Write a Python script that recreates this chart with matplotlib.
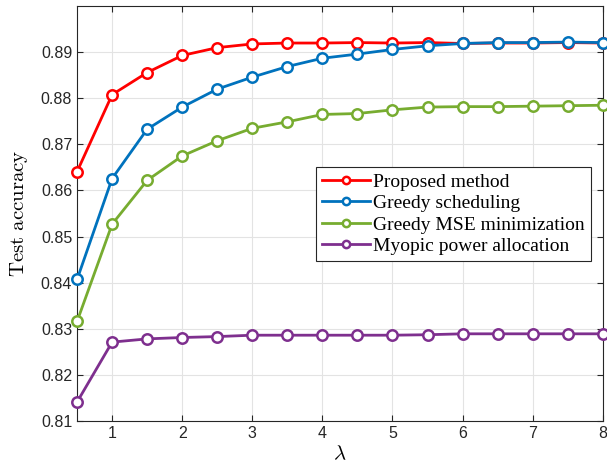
import numpy as np
import matplotlib
matplotlib.use('Agg')
from matplotlib import pyplot as plt

lam = [0.5, 1, 1.5, 2, 2.5, 3, 3.5, 4, 4.5, 5, 5.5, 6, 6.5, 7, 7.5, 8]

proposed = [0.8641, 0.8808, 0.8856, 0.8893, 0.8910, 0.8918, 0.8920, 0.8920,
            0.8921, 0.8920, 0.8921, 0.8919, 0.8920, 0.8920, 0.8921, 0.8920]
greedy_sched = [0.8407, 0.8626, 0.8733, 0.8781, 0.8820, 0.8846, 0.8869, 0.8887,
                0.8896, 0.8906, 0.8914, 0.8919, 0.8921, 0.8921, 0.8922, 0.8921]
greedy_mse = [0.8316, 0.8527, 0.8622, 0.8675, 0.8708, 0.8735, 0.8749, 0.8765,
              0.8767, 0.8775, 0.8781, 0.8782, 0.8782, 0.8783, 0.8784, 0.8785]
myopic = [0.8141, 0.8271, 0.8278, 0.8281, 0.8283, 0.8286, 0.8286, 0.8286,
          0.8286, 0.8286, 0.8287, 0.8289, 0.8289, 0.8289, 0.8289, 0.8289]

labels = ['Proposed method', 'Greedy scheduling', 'Greedy MSE minimization',
          'Myopic power allocation']
colors = ['#FF0000', '#0072BD', '#77AC30', '#7E2F8E']

plt.rcParams['mathtext.fontset'] = 'cm'

fig = plt.figure(figsize=(6.07, 4.74), dpi=100)
ax = fig.add_axes([0.127, 0.112, 0.866, 0.875])

for y, lab, c in zip([proposed, greedy_sched, greedy_mse, myopic], labels, colors):
    ax.plot(lam, y, '-o', color=c, lw=2.0, ms=7.5, mew=1.8,
            mfc='white', label=lab, clip_on=False, zorder=3)

ax.set_xlim(0.5, 8)
ax.set_ylim(0.81, 0.90)
ax.set_xticks(range(1, 9))
ax.set_yticks(np.arange(0.81, 0.895, 0.01))
ax.set_yticklabels(['%.2f' % v for v in np.arange(0.81, 0.895, 0.01)])

ax.grid(True, color='#e3e3e3', lw=0.8)
ax.set_axisbelow(True)
for s in ax.spines.values():
    s.set_color('#262626')
    s.set_linewidth(0.8)
ax.tick_params(direction='in', top=True, right=True, length=4,
               colors='#262626', labelsize=11.5, width=0.8)
for t in ax.get_xticklabels() + ax.get_yticklabels():
    t.set_family('Liberation Sans')

ax.set_xlabel(r'$\lambda$', fontsize=15, labelpad=2)
ax.set_ylabel(r'$\mathrm{Test\ accuracy}$', fontsize=15, labelpad=8)

leg = ax.legend(loc='upper left', bbox_to_anchor=(0.454, 0.612),
                prop={'family': 'Liberation Serif', 'size': 14},
                fancybox=False, framealpha=1, edgecolor='#262626',
                borderpad=0.3, labelspacing=0.2, handlelength=2.5,
                handletextpad=0.15, borderaxespad=0, markerscale=0.7)
leg.get_frame().set_linewidth(0.8)

plt.savefig('out.png', dpi=100)
